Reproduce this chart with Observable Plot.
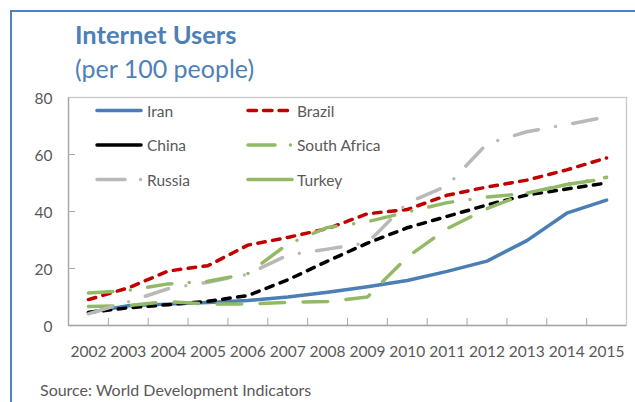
<!DOCTYPE html>
<html>
<head>
<meta charset="utf-8">
<script src="https://cdn.jsdelivr.net/npm/d3@7"></script>
<script src="https://cdn.jsdelivr.net/npm/@observablehq/plot@0.6"></script>
<style>
  html, body { margin: 0; padding: 0; background: #fff; }
  #wrap { position: relative; width: 635px; height: 402px; overflow: hidden; font-family: Lato, sans-serif; }
  #frame { position: absolute; left: 10px; top: 10px; width: 700px; height: 500px;
           border-top: 2.5px solid #4f81bd; border-left: 2.5px solid #4f81bd; box-sizing: border-box; }
  #chart, #overlay { position: absolute; left: 0; top: 0; }
</style>
</head>
<body>
<div id="wrap">
  <div id="frame"></div>
  <div id="chart"></div>
  <svg id="overlay" width="635" height="402"></svg>
</div>
<script>
// ---- data ----
const years = [2002, 2003, 2004, 2005, 2006, 2007, 2008, 2009, 2010, 2011, 2012, 2013, 2014, 2015];
const iran        = [4.6, 6.9, 7.5, 8.1, 8.8, 10.0, 11.7, 13.6, 15.8, 19.0, 22.6, 29.8, 39.4, 44.0];
const brazil      = [9.1, 13.2, 19.1, 21.0, 28.2, 30.9, 34.0, 39.2, 40.7, 45.7, 48.6, 51.0, 54.6, 58.8];
const china       = [4.6, 6.2, 7.3, 8.5, 10.5, 16.0, 22.6, 28.9, 34.3, 38.3, 42.3, 45.8, 47.9, 50.0];
const southAfrica = [6.7, 7.0, 8.4, 7.5, 7.6, 8.1, 8.4, 10.0, 24.0, 34.0, 41.0, 46.5, 49.5, 51.5];
const russia      = [4.1, 8.3, 12.9, 15.2, 18.0, 24.7, 26.8, 29.0, 43.0, 49.0, 63.8, 68.0, 70.5, 73.2];
const turkey      = [11.4, 12.3, 14.6, 15.5, 18.2, 28.6, 34.4, 36.4, 39.8, 43.1, 45.1, 46.3, 49.5, 52.0];
const seriesNames = ["Iran", "Brazil", "China", "South Africa", "Russia", "Turkey"];
const seriesValues = [iran, brazil, china, southAfrica, russia, turkey];
const yTicks = [0, 20, 40, 60, 80];
const titleText = "Internet Users";
const subtitleText = "(per 100 people)";
const sourceText = "Source: World Development Indicators";

// ---- styles ----
const styles = {
  "Iran":         {stroke: "#4a7eb4", dash: null,                 legendDash: null},
  "Brazil":       {stroke: "#c00000", dash: "7.5,7.5",            legendDash: "8.5,7"},
  "China":        {stroke: "#000000", dash: "7.5,7.5",            legendDash: null},
  "South Africa": {stroke: "#92ba66", dash: "24.5,18.5",          legendDash: "27,15.5,0,40"},
  "Russia":       {stroke: "#b9b9b9", dash: "24.5,17.5,0,17.5",   legendDash: "28,15.5,0,40"},
  "Turkey":       {stroke: "#92ba66", dash: "24.5,17.5,0,17.5",   legendDash: null}
};

const rows = seriesNames.flatMap((name, i) => years.map((year, j) => ({name, year, value: seriesValues[i][j]})));
const boundaries = years.slice(0, -1).map(y => y + 0.5);
const xDomain = [years[0] - 0.5, years[years.length - 1] + 0.5];

const axisGray = "#a6a6a6";
const textGray = "#595959";

const chart = Plot.plot({
  width: 635,
  height: 402,
  marginLeft: 68,
  marginRight: 9,
  marginTop: 97,
  marginBottom: 77,
  style: {fontFamily: "Lato, sans-serif", fontSize: "15px", color: textGray, background: "transparent", overflow: "visible"},
  x: {domain: xDomain},
  y: {domain: [0, 80]},
  marks: [
    Plot.frame({stroke: "#c8c8c8", strokeWidth: 1.3}),
    Plot.ruleY([0], {stroke: axisGray, strokeWidth: 1.3}),
    Plot.ruleX([xDomain[0]], {stroke: axisGray, strokeWidth: 1.3}),
    Plot.axisX(boundaries, {tickSize: 7, dy: -7, tickFormat: () => "", label: null, stroke: axisGray}),
    Plot.axisY(yTicks.slice(1, -1), {tickSize: 7, dx: 7, tickFormat: () => "", label: null, stroke: axisGray}),
    Plot.axisX(years, {tickSize: 0, tickPadding: 20, tickFormat: d => String(d), label: null, fill: textGray, fontSize: 15.5}),
    Plot.axisY(yTicks, {tickSize: 0, tickPadding: 16, label: null, fill: textGray, fontSize: 15.5, dy: 2}),
    ...seriesNames.map(name => Plot.lineY(rows.filter(d => d.name === name), {
      x: "year", y: "value",
      stroke: styles[name].stroke,
      strokeWidth: 3.5,
      strokeDasharray: styles[name].dash,
      strokeLinecap: "round",
      strokeLinejoin: "round"
    }))
  ]
});
document.getElementById("chart").appendChild(chart);

// ---- overlay: title, subtitle, legend, source ----
const ov = d3.select("#overlay").style("font-family", "Lato, sans-serif");
ov.append("text").attr("x", 75).attr("y", 43.5).attr("font-size", 25.5).attr("font-weight", 700)
  .attr("fill", "#4e80b8").text(titleText);
ov.append("text").attr("x", 75).attr("y", 77.5).attr("font-size", 25).attr("fill", "#4e80b8").text(subtitleText);
ov.append("text").attr("x", 40).attr("y", 396).attr("font-size", 16).attr("fill", textGray).text(sourceText);

const legendCols = [{x1: 97, x2: 141, tx: 147}, {x1: 248, x2: 292, tx: 297}];
const legendRows = [110.5, 145, 179.5];
seriesNames.forEach((name, i) => {
  const c = legendCols[i % 2], r = legendRows[Math.floor(i / 2)];
  ov.append("line").attr("x1", c.x1).attr("x2", c.x2).attr("y1", r).attr("y2", r)
    .attr("stroke", styles[name].stroke).attr("stroke-width", 3.5).attr("stroke-linecap", "round")
    .attr("stroke-dasharray", styles[name].legendDash);
  ov.append("text").attr("x", c.tx).attr("y", r + 6).attr("font-size", 15.5).attr("fill", textGray).text(name);
});
</script>
</body>
</html>
